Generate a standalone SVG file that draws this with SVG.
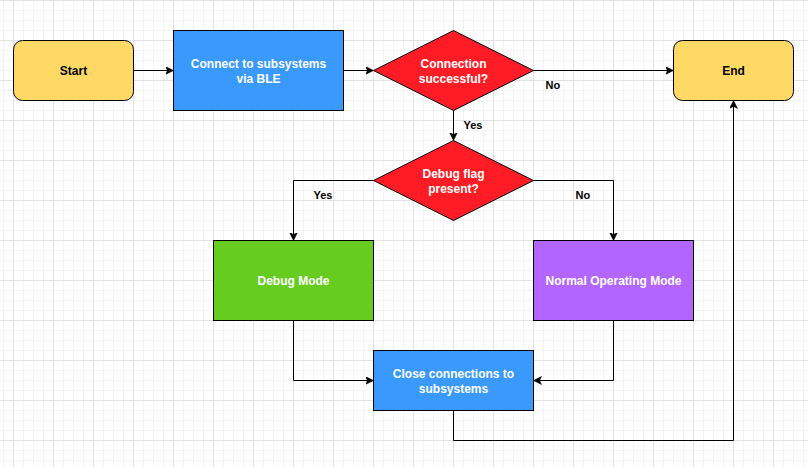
<svg xmlns="http://www.w3.org/2000/svg" width="808" height="467" viewBox="0 0 808 467">
  <style>
    .node { stroke: #000000; stroke-width: 1; }
    .lbl { font-family: "Liberation Sans", Arial, sans-serif; font-size: 12px; font-weight: bold; text-anchor: middle; }
    .w { fill: #ffffff; }
    .k { fill: #000000; }
    .elbl { font-family: "Liberation Sans", Arial, sans-serif; font-size: 11px; font-weight: bold; fill: #000000; }
    .edge { fill: none; stroke: #000000; stroke-width: 1; marker-end: url(#arrow); }
  </style>
  <defs>
    <pattern id="grid" patternUnits="userSpaceOnUse" x="13" y="0" width="40" height="40">
      <path d="M10.5,0 V40 M20.5,0 V40 M30.5,0 V40 M0,10.5 H40 M0,20.5 H40 M0,30.5 H40" stroke="#f4f4f4" stroke-width="1" fill="none"/>
      <path d="M0.5,0 V40 M0,0.5 H40" stroke="#e2e2e2" stroke-width="1" fill="none"/>
    </pattern>
    <marker id="arrow" markerUnits="userSpaceOnUse" markerWidth="10" markerHeight="10" refX="8" refY="4" orient="auto">
      <path d="M0,0 L8,4 L0,8 L2,4 Z" fill="#000000" stroke="#000000" stroke-width="0.5"/>
    </marker>
  </defs>
  <rect x="0" y="0" width="808" height="467" fill="#ffffff"/>
  <rect x="0" y="0" width="808" height="467" fill="url(#grid)"/>

  <g transform="translate(0.5,0.5)">
    <g id="connectors">
      <path class="edge" d="M133,70 L173,70"/>
      <path class="edge" d="M343,70 L373,70"/>
      <path class="edge" d="M533,70 L673,70"/>
      <path class="edge" d="M453,110 L453,140"/>
      <path class="edge" d="M373,180 L293,180 L293,240"/>
      <path class="edge" d="M533,180 L613,180 L613,240"/>
      <path class="edge" d="M293,320 L293,380 L373,380"/>
      <path class="edge" d="M613,320 L613,380 L533,380"/>
      <path class="edge" d="M453,410 L453,440 L733,440 L733,100"/>
      <text class="elbl" x="545" y="88">No</text>
      <text class="elbl" x="463" y="128">Yes</text>
      <text class="elbl" x="313" y="198">Yes</text>
      <text class="elbl" x="575" y="198">No</text>
    </g>

    <g id="start">
      <rect class="node" x="13" y="40" width="120" height="60" rx="9" ry="9" fill="#ffd966"/>
      <text class="lbl k" x="73" y="74">Start</text>
    </g>

    <g id="connect">
      <rect class="node" x="173" y="30" width="170" height="80" fill="#3a99fd"/>
      <text class="lbl w" x="258" y="67">Connect to subsystems</text>
      <text class="lbl w" x="258" y="82">via BLE</text>
    </g>

    <g id="conn-ok">
      <polygon class="node" points="453,30 533,70 453,110 373,70" fill="#ff1c24"/>
      <text class="lbl w" x="453" y="67">Connection</text>
      <text class="lbl w" x="453" y="82">successful?</text>
    </g>

    <g id="end">
      <rect class="node" x="673" y="40" width="120" height="60" rx="9" ry="9" fill="#ffd966"/>
      <text class="lbl k" x="733" y="74">End</text>
    </g>

    <g id="debug-flag">
      <polygon class="node" points="453,140 533,180 453,220 373,180" fill="#ff1c24"/>
      <text class="lbl w" x="453" y="177">Debug flag</text>
      <text class="lbl w" x="453" y="192">present?</text>
    </g>

    <g id="debug-mode">
      <rect class="node" x="213" y="240" width="160" height="80" fill="#66cc1f"/>
      <text class="lbl w" x="293" y="284">Debug Mode</text>
    </g>

    <g id="normal-mode">
      <rect class="node" x="533" y="240" width="160" height="80" fill="#b266ff"/>
      <text class="lbl w" x="613" y="284">Normal Operating Mode</text>
    </g>

    <g id="close">
      <rect class="node" x="373" y="350" width="160" height="60" fill="#3a99fd"/>
      <text class="lbl w" x="453" y="377">Close connections to</text>
      <text class="lbl w" x="453" y="392">subsystems</text>
    </g>
  </g>
</svg>
